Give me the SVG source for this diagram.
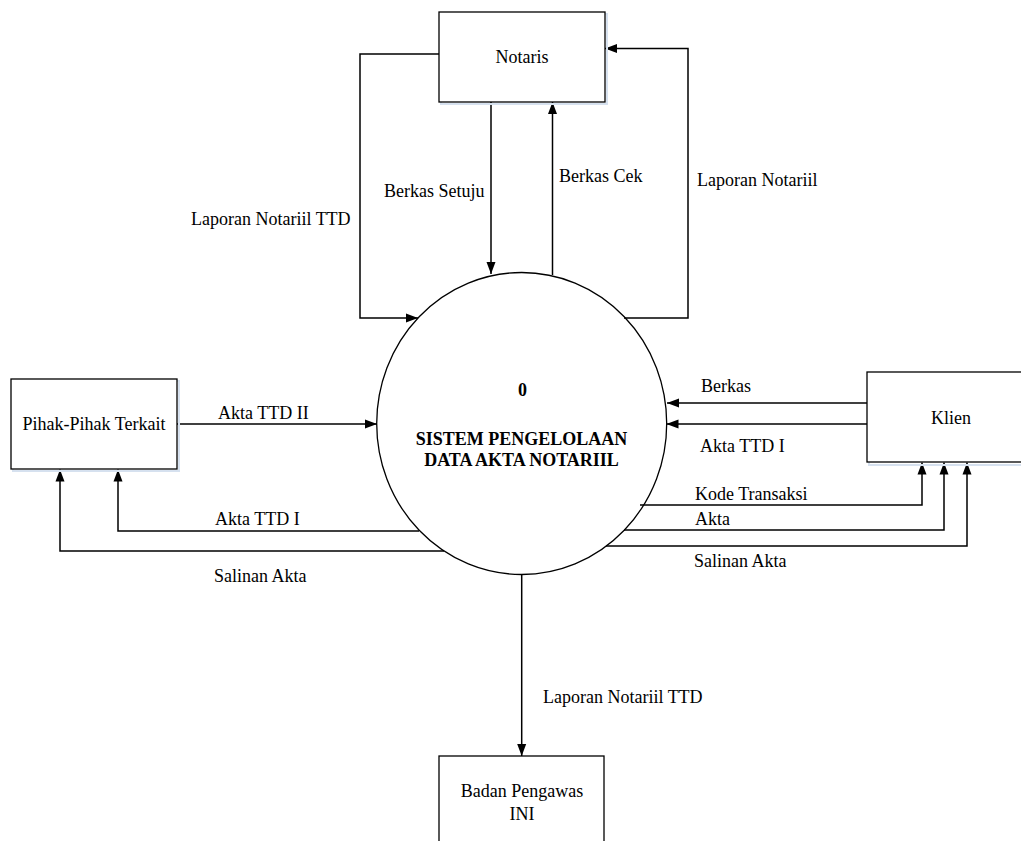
<svg xmlns="http://www.w3.org/2000/svg" width="1021" height="841" viewBox="0 0 1021 841" font-family="'Liberation Serif', 'Times New Roman', serif" font-size="18">
<style>
text{font-family:'Liberation Serif','Times New Roman',serif;font-size:18px;fill:#000}
.c{text-anchor:middle}
.b{font-weight:bold}
.box{fill:#fff;stroke:#000;stroke-width:1.3}
.sh{fill:none;stroke:#d6e1ef;stroke-width:2}
.ln{fill:none;stroke:#000;stroke-width:1.5}
</style>
<defs>
<marker id="ah" markerUnits="userSpaceOnUse" markerWidth="12" markerHeight="12" viewBox="0 0 12 12" refX="12" refY="6" orient="auto">
<path d="M0,1.5 L12,6 L0,10.5 Z" fill="#000"/>
</marker>
</defs>
<rect width="1021" height="841" fill="#fff"/>
<g id="connectors">
<path class="ln" d="M439,54 H360 V318 H418" marker-end="url(#ah)"/>
<path class="ln" d="M624,318 H688 V48.5 H605" marker-end="url(#ah)"/>
<path class="ln" d="M491,102 V274" marker-end="url(#ah)"/>
<path class="ln" d="M552.5,275 V102" marker-end="url(#ah)"/>
<path class="ln" d="M177,424 H377" marker-end="url(#ah)"/>
<path class="ln" d="M419,531 H118 V469.5" marker-end="url(#ah)"/>
<path class="ln" d="M444,551 H60 V469.5" marker-end="url(#ah)"/>
<path class="ln" d="M867,403 H667" marker-end="url(#ah)"/>
<path class="ln" d="M867,424 H666.5" marker-end="url(#ah)"/>
<path class="ln" d="M640,505 H922 V462.5" marker-end="url(#ah)"/>
<path class="ln" d="M624,530 H944 V462.5" marker-end="url(#ah)"/>
<path class="ln" d="M606,546 H967 V462.5" marker-end="url(#ah)"/>
<path class="ln" d="M521.7,575 V756" marker-end="url(#ah)"/>
<text x="191" y="225" font-family="'Liberation Serif', serif">Laporan Notariil TTD</text>
<text x="384" y="197" font-family="'Liberation Serif', serif">Berkas Setuju</text>
<text x="559" y="182" font-family="'Liberation Serif', serif">Berkas Cek</text>
<text x="697" y="186" font-family="'Liberation Serif', serif">Laporan Notariil</text>
<text x="218" y="419" font-family="'Liberation Serif', serif">Akta TTD II</text>
<text x="215" y="525" font-family="'Liberation Serif', serif">Akta TTD I</text>
<text x="214" y="582" font-family="'Liberation Serif', serif">Salinan Akta</text>
<text x="701" y="392" font-family="'Liberation Serif', serif">Berkas</text>
<text x="700" y="452" font-family="'Liberation Serif', serif">Akta TTD I</text>
<text x="695" y="500" font-family="'Liberation Serif', serif">Kode Transaksi</text>
<text x="695" y="525" font-family="'Liberation Serif', serif">Akta</text>
<text x="694" y="567" font-family="'Liberation Serif', serif">Salinan Akta</text>
<text x="543" y="703" font-family="'Liberation Serif', serif">Laporan Notariil TTD</text>
</g>
<g id="process0">
<ellipse cx="521.7" cy="423.5" rx="145" ry="151" fill="none" stroke="#000" stroke-width="1.3"/>
<text class="c b" x="522.5" y="396" font-family="'Liberation Serif', serif">0</text>
<text class="c b" x="521.5" y="445" font-family="'Liberation Serif', serif">SISTEM PENGELOLAAN</text>
<text class="c b" x="521.5" y="466" font-family="'Liberation Serif', serif">DATA AKTA NOTARIIL</text>
</g>
<g id="notaris">
<rect class="sh" x="441" y="14" width="166" height="90"/>
<rect class="box" x="439" y="12" width="166" height="90"/>
<text class="c" x="522" y="63" font-family="'Liberation Serif', serif">Notaris</text>
</g>
<g id="pihak">
<rect class="sh" x="13" y="381" width="166" height="90"/>
<rect class="box" x="11" y="379" width="166" height="90"/>
<text class="c" x="94" y="430" font-family="'Liberation Serif', serif">Pihak-Pihak Terkait</text>
</g>
<g id="klien">
<rect class="sh" x="869" y="374" width="160" height="91"/>
<rect class="box" x="867" y="372" width="160" height="90"/>
<text class="c" x="951" y="424" font-family="'Liberation Serif', serif">Klien</text>
</g>
<g id="badan">
<rect class="box" x="439" y="756" width="165" height="100"/>
<text class="c" x="522" y="797" font-family="'Liberation Serif', serif">Badan Pengawas</text>
<text class="c" x="522" y="820" font-family="'Liberation Serif', serif">INI</text>
</g>
</svg>
